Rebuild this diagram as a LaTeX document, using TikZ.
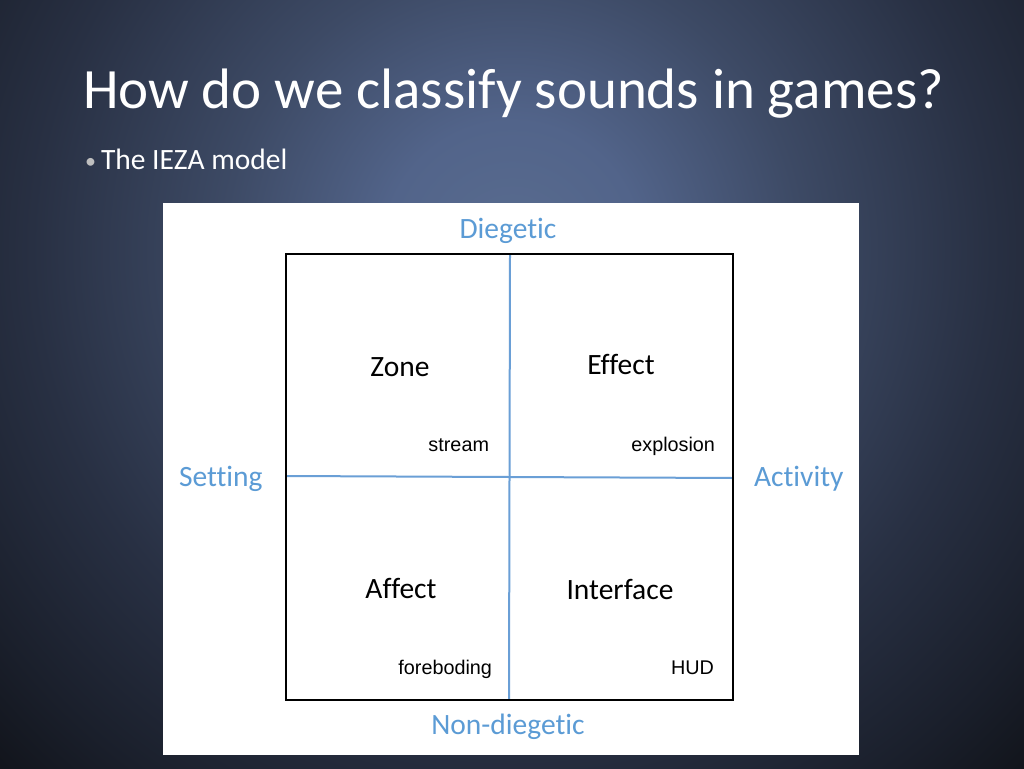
\documentclass[tikz,border=0pt]{standalone}
\usepackage{fontspec}
\setmainfont{Carlito}[Ligatures=NoCommon]
\newfontfamily\arialfont{Liberation Sans}
\definecolor{labelblue}{HTML}{5B9BD5}
\definecolor{axisblue}{HTML}{6A9FD6}
\definecolor{bgA}{HTML}{596C8F}
\definecolor{bgB}{HTML}{52648A}
\definecolor{bgC}{HTML}{3D4A65}
\definecolor{bgD}{HTML}{283043}
\definecolor{bgE}{HTML}{1A1F2B}
\definecolor{bgF}{HTML}{0E1015}
\pgfdeclareradialshading{slidebg}{\pgfpoint{0bp}{0bp}}{%
  color(0bp)=(bgA); color(4bp)=(bgB); color(9bp)=(bgC); color(15bp)=(bgD); color(20bp)=(bgE); color(24bp)=(bgF); color(50bp)=(bgF)}
\begin{document}
\begin{tikzpicture}[x=1pt,y=-1pt,
  txt/.style={inner sep=0pt,outer sep=0pt},
  axislabel/.style={txt,text=labelblue,font=\fontsize{29.5}{32}\selectfont},
  quadlabel/.style={txt,text=black,font=\fontsize{29.5}{32}\selectfont},
  example/.style={txt,text=black,font=\arialfont\fontsize{19.8}{22}\selectfont,anchor=base east},
  boxline/.style={draw=black,line width=2pt},
  axisline/.style={draw=axisblue,line width=2pt}]
\useasboundingbox (0,0) rectangle (1024,768);
\begin{scope}
  \clip (0,0) rectangle (1024,768);
  \shade[shading=slidebg] (512,250) circle[radius=800];
\end{scope}
% title and bullet
\node[txt,anchor=base west,text=white,font=\fontsize{57}{62}\selectfont] (title) at (83,108) {How do we classify sounds in games?};
\node[txt,anchor=base west,text=white!75!black,font=\fontsize{22}{24}\selectfont] (bullet) at (85,168) {•};
\node[txt,anchor=base west,text=white,font=\fontsize{29.5}{32}\selectfont] (sub) at (101,169) {The IEZA model};
% panel
\fill[white] (163,203) rectangle (859,755);
\coordinate (tl) at (286,254);
\coordinate (br) at (733,700);
\coordinate (vtop) at (510,254);
\coordinate (vbot) at (509,700);
\coordinate (hleft) at (286,476);
\coordinate (hright) at (733,478);
\draw[axisline] (vtop) -- (vbot);
\draw[axisline] (hleft) -- (hright);
\draw[boxline] (tl) rectangle (br);
% axis labels
\node[axislabel,anchor=base] (dieg) at (508,238) {Diegetic};
\node[axislabel,anchor=base west] (sett) at (179,486) {Setting};
\node[axislabel,anchor=base west] (act) at (754,486) {Activity};
\node[axislabel,anchor=base] (nondieg) at (508,734) {Non-diegetic};
% quadrant labels
\node[quadlabel,anchor=base] (zone) at (400,376) {Zone};
\node[quadlabel,anchor=base] (effect) at (621,374) {Effect};
\node[quadlabel,anchor=base] (affect) at (401,598) {Affect};
\node[quadlabel,anchor=base] (interface) at (620,599) {Interface};
% examples
\node[example] (stream) at (489,451) {stream};
\node[example] (explosion) at (715,451) {explosion};
\node[example] (foreboding) at (492,674) {foreboding};
\node[example] (hud) at (714,674) {HUD};
\end{tikzpicture}
\end{document}
